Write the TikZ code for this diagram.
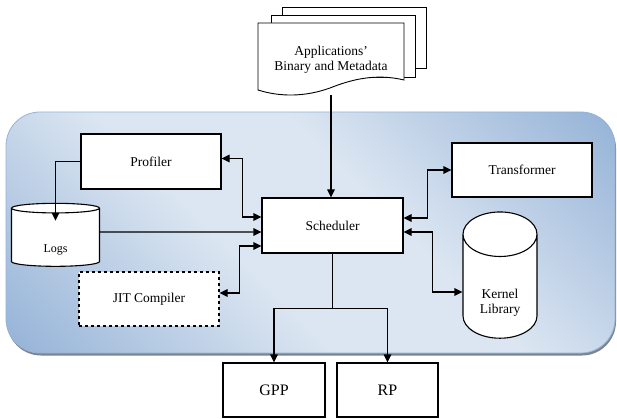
\documentclass[tikz,border=0pt]{standalone}
\usepackage{fontspec}
\setmainfont{Liberation Serif}
\usetikzlibrary{arrows.meta,shapes.geometric,shadows}
\definecolor{paneldark}{HTML}{95B3D7}
\definecolor{panellight}{HTML}{DCE6F2}
\pgfdeclareverticalshading{panelshade}{100bp}{color(0bp)=(paneldark); color(15bp)=(paneldark);
  color(42bp)=(panellight); color(58bp)=(panellight); color(85bp)=(paneldark); color(100bp)=(paneldark)}
\begin{document}
\begin{tikzpicture}[
        x=1pt, y=-1pt,
        font=\fontsize{13.5}{15}\selectfont,
        panel/.style={draw=paneldark, line width=0.8pt, rounded corners=34pt,
          shading=panelshade, shading angle=-45,
          drop shadow={shadow xshift=1pt, shadow yshift=-2.5pt, fill=black!55!paneldark, opacity=0.7}},
        box/.style={draw, fill=white, line width=1.1pt, inner sep=0pt},
        jitbox/.style={box, dashed},
        store/.style={draw, fill=white, line width=1.1pt, cylinder, shape border rotate=90,
          inner sep=0pt, align=center},
        sheet/.style={draw, fill=white, line width=0.9pt},
        link/.style={line width=1.1pt, arrows={-Triangle[length=8pt,width=7.5pt]}},
        twoway/.style={line width=1.1pt, arrows={Triangle[length=8pt,width=7.5pt]-Triangle[length=8pt,width=7.5pt]}}
      ]
      \useasboundingbox (0,0) rectangle (617,419);
      \path[panel] (6,112) rectangle (615,353);
      \draw[sheet] (282,7) rectangle (426,68);
      \draw[sheet] (271,15) rectangle (415,77);
      \draw[sheet] (258,23) -- (404,23) -- (404,80)
        .. controls (375,73) and (350,80) .. (330,88)
        .. controls (305,97) and (280,97) .. (258,90) -- cycle;
      \node[align=center, minimum height=70pt, inner sep=0pt] (apps) at (331,60)
        {Applications’\\Binary and Metadata};
      \node[box, minimum width=141pt, minimum height=55pt] (sched) at (332.5,225.5) {Scheduler};
      \node[box, minimum width=140pt, minimum height=55pt] (prof) at (151,161.5) {Profiler};
      \node[jitbox, minimum width=140pt, minimum height=54pt] (jit) at (149,299) {JIT Compiler};
      \node[box, minimum width=140pt, minimum height=54pt] (trans) at (522,170) {Transformer};
      \node[store, minimum width=88pt, minimum height=63pt, aspect=0.4,
        font=\fontsize{12}{14}\selectfont] (logs) at (55.5,237.5) {\\[19pt]Logs};
      \node[store, minimum width=74pt, minimum height=93pt, aspect=1.1] (kernel) at (500,286.5)
        {\\[26pt]Kernel\\Library};
      \node[box, minimum width=102pt, minimum height=54pt, font=\fontsize{16}{18}\selectfont] (gpp) at (274,390) {GPP};
      \node[box, minimum width=101pt, minimum height=54pt, font=\fontsize{16}{18}\selectfont] (rp) at (387.5,390) {RP};
      \draw[link] (apps.south) -- (apps.south |- sched.north);
      \draw[twoway] ([yshift=3pt]prof.east) -- ++(21,0) |- ([yshift=8.5pt]sched.west);
      \draw[link] ([yshift=5.5pt]logs.east) -- ([yshift=-6.5pt]sched.west);
      \draw[twoway] ([yshift=-20.5pt]sched.west) -- ++(-22,0) |- ([yshift=6pt]jit.east);
      \draw[link] (prof.west) -| ([yshift=-18pt]logs.north);
      \draw[twoway] ([yshift=7.5pt]sched.east) -- ++(24,0) |- (trans.west);
      \draw[twoway] ([yshift=-6.5pt]sched.east) -- ++(29,0) |- ([yshift=-5.5pt]kernel.west);
      \draw[link] (sched.south) -- ++(0,55) -| (gpp.north);
      \draw[link] (sched.south) -- ++(0,55) -| (rp.north);
      \end{tikzpicture}
\end{document}
